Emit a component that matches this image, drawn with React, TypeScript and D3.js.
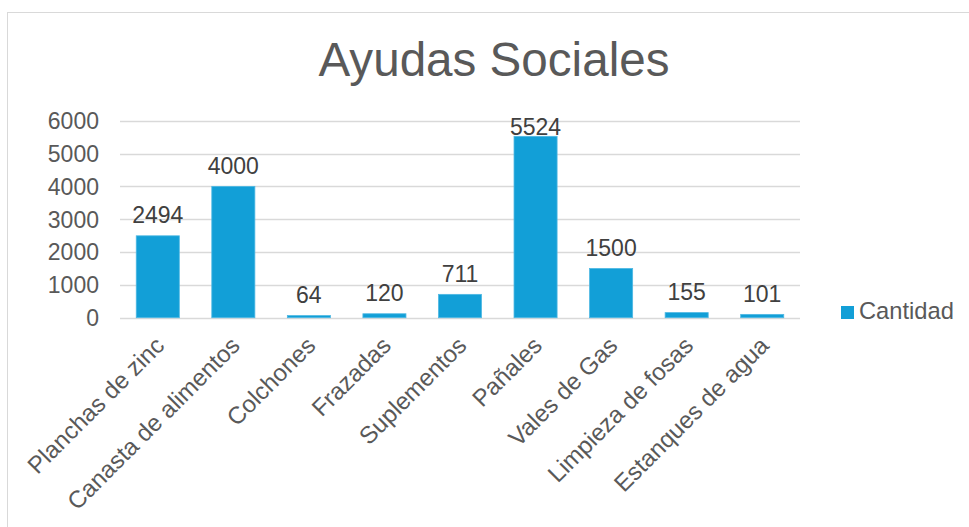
import React from "react";
import * as d3 from "d3";

const categories = [
  "Planchas de zinc",
  "Canasta de alimentos",
  "Colchones",
  "Frazadas",
  "Suplementos",
  "Pañales",
  "Vales de Gas",
  "Limpieza de fosas",
  "Estanques de agua",
];
const values = [2494, 4000, 64, 120, 711, 5524, 1500, 155, 101];
const yTicks = [0, 1000, 2000, 3000, 4000, 5000, 6000];
const seriesName = "Cantidad";
const title = "Ayudas Sociales";

const W = 969;
const H = 527;
const FONT = "Arial, 'Liberation Sans', sans-serif";

export default function App() {
  const x = d3
    .scaleBand<string>()
    .domain(categories)
    .range([120, 800])
    .paddingInner(0.43)
    .paddingOuter(0.215);
  const y = d3.scaleLinear().domain([0, 6000]).range([317.7, 120.7]);

  return (
    <svg
      width={W}
      height={H}
      style={{ position: "absolute", left: 0, top: 0, background: "#fff" }}
      fontFamily={FONT}
    >
      <rect x={7.5} y={12.5} width={W + 20} height={H + 20} fill="#fff" stroke="#d9d9d9" strokeWidth={1} />
      <text x={494} y={76} textAnchor="middle" fontSize={47.6} fill="#595959">
        {title}
      </text>
      {yTicks.map((t) => (
        <g key={t}>
          <line x1={120} x2={800} y1={Math.round(y(t)) + 0.5} y2={Math.round(y(t)) + 0.5} stroke="#d9d9d9" strokeWidth={1.3} />
          <text x={99} y={y(t) + 8.3} textAnchor="end" fontSize={23} fill="#595959">
            {t}
          </text>
        </g>
      ))}
      {categories.map((c, i) => {
        const bx = x(c)!;
        const bw = x.bandwidth();
        const top = y(values[i]);
        const cx = bx + bw / 2;
        const ly = Math.max(top - 12.5, 135);
        return (
          <g key={c}>
            <rect x={bx} y={top} width={bw} height={y(0) - top} fill="#129fd7" stroke="#4fb8e3" strokeWidth={0.8} />
            <text x={cx} y={ly} textAnchor="middle" fontSize={23} fill="#404040">
              {values[i]}
            </text>
            <text
              transform={`translate(${cx + 8},347) rotate(-45)`}
              textAnchor="end"
              fontSize={24}
              fill="#595959"
            >
              {c}
            </text>
          </g>
        );
      })}
      <rect x={841} y={306} width={13} height={13} fill="#129fd7" />
      <text x={859} y={319} fontSize={23.7} fill="#595959">
        {seriesName}
      </text>
    </svg>
  );
}
